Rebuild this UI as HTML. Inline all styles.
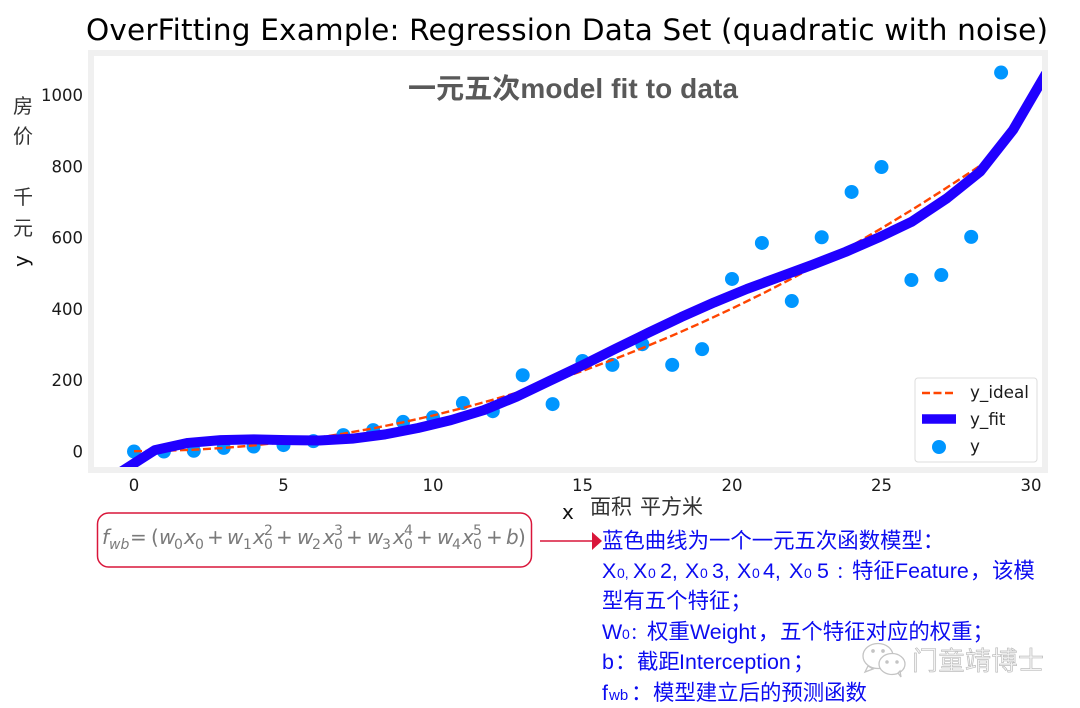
<!DOCTYPE html>
<html lang="zh">
<head>
<meta charset="utf-8">
<title>OverFitting Example</title>
<style>
html,body{margin:0;padding:0;background:#fff;width:1080px;height:708px;overflow:hidden}
svg{display:block}
.dj{font-family:"DejaVu Sans","Liberation Sans",sans-serif}
.cjk{font-family:"Noto Sans CJK SC","WenQuanYi Zen Hei",sans-serif}
.blue{font-family:"Liberation Sans","Noto Sans CJK SC",sans-serif;font-size:21.4px;fill:#0c0cf0}
.tick{font-size:16.5px;fill:#1a1a1a}
.math{font-family:"DejaVu Sans",sans-serif;font-style:italic;font-size:20px;fill:#7a7a7a}
.math .u{font-style:normal}
.math .s{font-size:14px;font-style:normal}
</style>
</head>
<body>
<svg id="chart" xmlns="http://www.w3.org/2000/svg" width="1080" height="708" viewBox="0 0 1080 708">
  <defs>
    <clipPath id="plot-clip"><rect x="94" y="56" width="948" height="411"/></clipPath>
  </defs>
  <text class="dj" x="86" y="40" font-size="29.5" fill="#000" textLength="962">OverFitting Example: Regression Data Set (quadratic with noise)</text>
  <rect x="91" y="53" width="954" height="417" fill="#fff" stroke="#f0f0f0" stroke-width="6"/>
  <g id="y-ticks"></g>
  <g id="x-ticks"></g>
  <g clip-path="url(#plot-clip)">
    <g id="dots"></g>
    <polyline id="ideal-line" fill="none" stroke="#ff4500" stroke-width="2.4" stroke-dasharray="8 3.5"/>
    <polyline id="fit-line" fill="none" stroke="#2000ff" stroke-width="10" stroke-linejoin="round"/>
  </g>
  <text x="408" y="98" font-family="'Liberation Sans','Noto Sans CJK SC',sans-serif" font-weight="700" font-size="28" fill="#595959" textLength="330">一元五次model fit to data</text>

  <g>
    <rect x="915" y="378" width="122" height="84" rx="3" fill="#fff" fill-opacity=".85" stroke="#dcdcdc" stroke-width="1"/>
    <line x1="922" y1="393" x2="953" y2="393" stroke="#ff4500" stroke-width="2.4" stroke-dasharray="8 3.5"/>
    <text class="dj" x="970" y="398" font-size="16.8" fill="#1a1a1a">y_ideal</text>
    <line x1="922" y1="419" x2="956" y2="419" stroke="#2000ff" stroke-width="9.5"/>
    <text class="dj" x="970" y="425" font-size="16.8" fill="#1a1a1a">y_fit</text>
    <circle cx="939" cy="447" r="7" fill="#0096ff"/>
    <text class="dj" x="970" y="452" font-size="16.8" fill="#1a1a1a">y</text>
  </g>

  <g fill="#333">
    <text class="cjk" x="13" y="113" font-size="20">房</text>
    <text class="cjk" x="13" y="143" font-size="20">价</text>
    <text class="cjk" x="13" y="204" font-size="20">千</text>
    <text class="cjk" x="13" y="235" font-size="20">元</text>
    <text class="dj" transform="translate(28,267) rotate(-90)" font-size="20" fill="#111">y</text>
  </g>
  <text class="dj" x="562" y="519" font-size="20" fill="#111">x</text>
  <text class="cjk" y="514" font-size="21" fill="#333"><tspan x="590">面积</tspan><tspan x="640">平方米</tspan></text>

  <rect x="97.5" y="513" width="434" height="54" rx="11" fill="#fff" stroke="#d9163a" stroke-width="1.5"/>
  <text class="math">
    <tspan x="102" y="544">f</tspan><tspan class="s" style="font-style:italic" x="109" y="549">wb</tspan>
    <tspan class="u" x="130" y="544">=</tspan><tspan class="u" x="151" y="544">(</tspan>
    <tspan x="159" y="544">w</tspan><tspan class="s" x="174" y="549">0</tspan><tspan x="184" y="544">x</tspan><tspan class="s" x="195" y="549">0</tspan>
    <tspan class="u" x="207" y="544">+</tspan>
    <tspan x="227" y="544">w</tspan><tspan class="s" x="243" y="549">1</tspan><tspan x="253" y="544">x</tspan><tspan class="s" x="264" y="535">2</tspan><tspan class="s" x="264" y="549">0</tspan>
    <tspan class="u" x="276" y="544">+</tspan>
    <tspan x="297" y="544">w</tspan><tspan class="s" x="312" y="549">2</tspan><tspan x="323" y="544">x</tspan><tspan class="s" x="334" y="535">3</tspan><tspan class="s" x="334" y="549">0</tspan>
    <tspan class="u" x="346" y="544">+</tspan>
    <tspan x="367" y="544">w</tspan><tspan class="s" x="382" y="549">3</tspan><tspan x="393" y="544">x</tspan><tspan class="s" x="404" y="535">4</tspan><tspan class="s" x="404" y="549">0</tspan>
    <tspan class="u" x="416" y="544">+</tspan>
    <tspan x="437" y="544">w</tspan><tspan class="s" x="452" y="549">4</tspan><tspan x="462" y="544">x</tspan><tspan class="s" x="473" y="535">5</tspan><tspan class="s" x="473" y="549">0</tspan>
    <tspan class="u" x="486" y="544">+</tspan>
    <tspan x="506" y="544">b</tspan><tspan class="u" x="518" y="544">)</tspan>
  </text>

  <line x1="540" y1="541" x2="593" y2="541" stroke="#d9163a" stroke-width="1.5"/>
  <polygon points="592,532 602,541 592,550" fill="#d9163a"/>

  <g class="blue">
    <text x="602" y="548">蓝色曲线为一个一元五次函数模型：</text>
    <text y="578">
      <tspan x="602">X</tspan><tspan font-size="14" x="617">0,</tspan>
      <tspan x="633">X</tspan><tspan font-size="14" x="648">0</tspan><tspan x="660">2,</tspan>
      <tspan x="685">X</tspan><tspan font-size="14" x="700">0</tspan><tspan x="712">3,</tspan>
      <tspan x="737">X</tspan><tspan font-size="14" x="752">0</tspan><tspan x="763">4,</tspan>
      <tspan x="789">X</tspan><tspan font-size="14" x="804">0</tspan><tspan x="817">5</tspan>
      <tspan x="836" font-size="17">：</tspan><tspan x="852">特征</tspan><tspan x="895">Feature</tspan><tspan x="970">，</tspan><tspan x="992">该模</tspan>
    </text>
    <text x="602" y="608">型有五个特征；</text>
    <text y="639">
      <tspan x="602">W</tspan><tspan font-size="14" x="622">0</tspan><tspan x="630" font-size="17">：</tspan><tspan x="647">权重</tspan><tspan x="690">Weight</tspan><tspan x="758">，</tspan><tspan x="780">五个特征对应的权重；</tspan>
    </text>
    <text y="669">
      <tspan x="602">b</tspan><tspan x="615">：</tspan><tspan x="637">截距</tspan><tspan x="679">Interception</tspan><tspan x="793">；</tspan>
    </text>
    <text y="700">
      <tspan x="602">f</tspan><tspan font-size="15" x="609">wb</tspan><tspan x="631">：</tspan><tspan x="653">模型建立后的预测函数</tspan>
    </text>
  </g>

  <g>
    <g fill="#fff" stroke="#c4c4c4" stroke-width="1.3">
      <ellipse cx="878" cy="656" rx="15" ry="12.5"/>
      <path d="M868 666 l-3 6 l8 -3z"/>
      <ellipse cx="892" cy="664" rx="13" ry="10.5"/>
      <path d="M898 673 l3 4 l-1 -6z"/>
      <circle cx="873" cy="651" r="1.2" fill="#c4c4c4"/>
      <circle cx="883" cy="651" r="1.2" fill="#c4c4c4"/>
      <circle cx="887" cy="662" r="1.1" fill="#c4c4c4"/>
      <circle cx="897" cy="662" r="1.1" fill="#c4c4c4"/>
    </g>
    <text class="cjk" x="912" y="670" font-size="26" fill="#f4f4f4" stroke="#b5b5b5" stroke-width=".6" textLength="132">门童靖博士</text>
  </g>
</svg>
<script>
var xTicks = [0, 5, 10, 15, 20, 25, 30];
var yTicks = [0, 200, 400, 600, 800, 1000];
var xData = [0,1,2,3,4,5,6,7,8,9,10,11,12,13,14,15,16,17,18,19,20,21,22,23,24,25,26,27,28,29];
var yData = [0,0,2,10,14,18,29,46,60,83,96,136,113,214,133,254,243,301,243,287,484,585,422,601,728,798,481,495,602,1063];
var yIdeal = [1,2,5,10,17,26,37,50,65,82,101,122,145,170,197,226,257,290,325,362,401,442,485,530,577,626,677,730,785,842];
var xFit = [-0.4,0.7,1.8,2.9,4.0,5.1,6.2,7.3,8.4,9.5,10.6,11.7,12.8,13.9,15.0,16.1,17.2,18.3,19.4,20.5,21.6,22.7,23.8,24.9,26.0,27.2,28.3,29.4,30.5];
var yFit = [-55,4,24,32,34,32,31,36,48,66,88,116,154,198,242,288,333,377,418,456,490,524,560,600,644,711,785,902,1060];

function xScale(v) { return 134 + v * 29.9; }
function yScale(v) { return 451.5 - v * 0.3565; }

var SVG_NS = 'http://www.w3.org/2000/svg';
function make(tag, parent) {
  var el = document.createElementNS(SVG_NS, tag);
  parent.appendChild(el);
  return el;
}

var dotsGroup = document.getElementById('dots');
xData.forEach(function (x, i) {
  var c = make('circle', dotsGroup);
  
  
  c.setAttribute('cx', xScale(x));
  c.setAttribute('cy', yScale(yData[i]));
  c.setAttribute('r', 7);
  c.setAttribute('fill', '#0096ff');
});

document.getElementById('ideal-line').setAttribute('points', xData.map(function (x, i) {
  return xScale(x) + ',' + yScale(yIdeal[i]);
}).join(' '));

document.getElementById('fit-line').setAttribute('points', xFit.map(function (x, i) {
  return xScale(x) + ',' + yScale(yFit[i]);
}).join(' '));

var xTickGroup = document.getElementById('x-ticks');
xTicks.forEach(function (v) {
  var t = make('text', xTickGroup);
  
  
  t.setAttribute('class', 'dj tick');
  t.setAttribute('x', xScale(v));
  t.setAttribute('y', 491);
  t.setAttribute('text-anchor', 'middle');
  t.textContent = v;
});

var yTickGroup = document.getElementById('y-ticks');
yTicks.forEach(function (v) {
  var t = make('text', yTickGroup);
  
  
  t.setAttribute('class', 'dj tick');
  t.setAttribute('x', 83);
  t.setAttribute('y', yScale(v) + 6);
  t.setAttribute('text-anchor', 'end');
  t.textContent = v;
});
</script>
</body>
</html>
